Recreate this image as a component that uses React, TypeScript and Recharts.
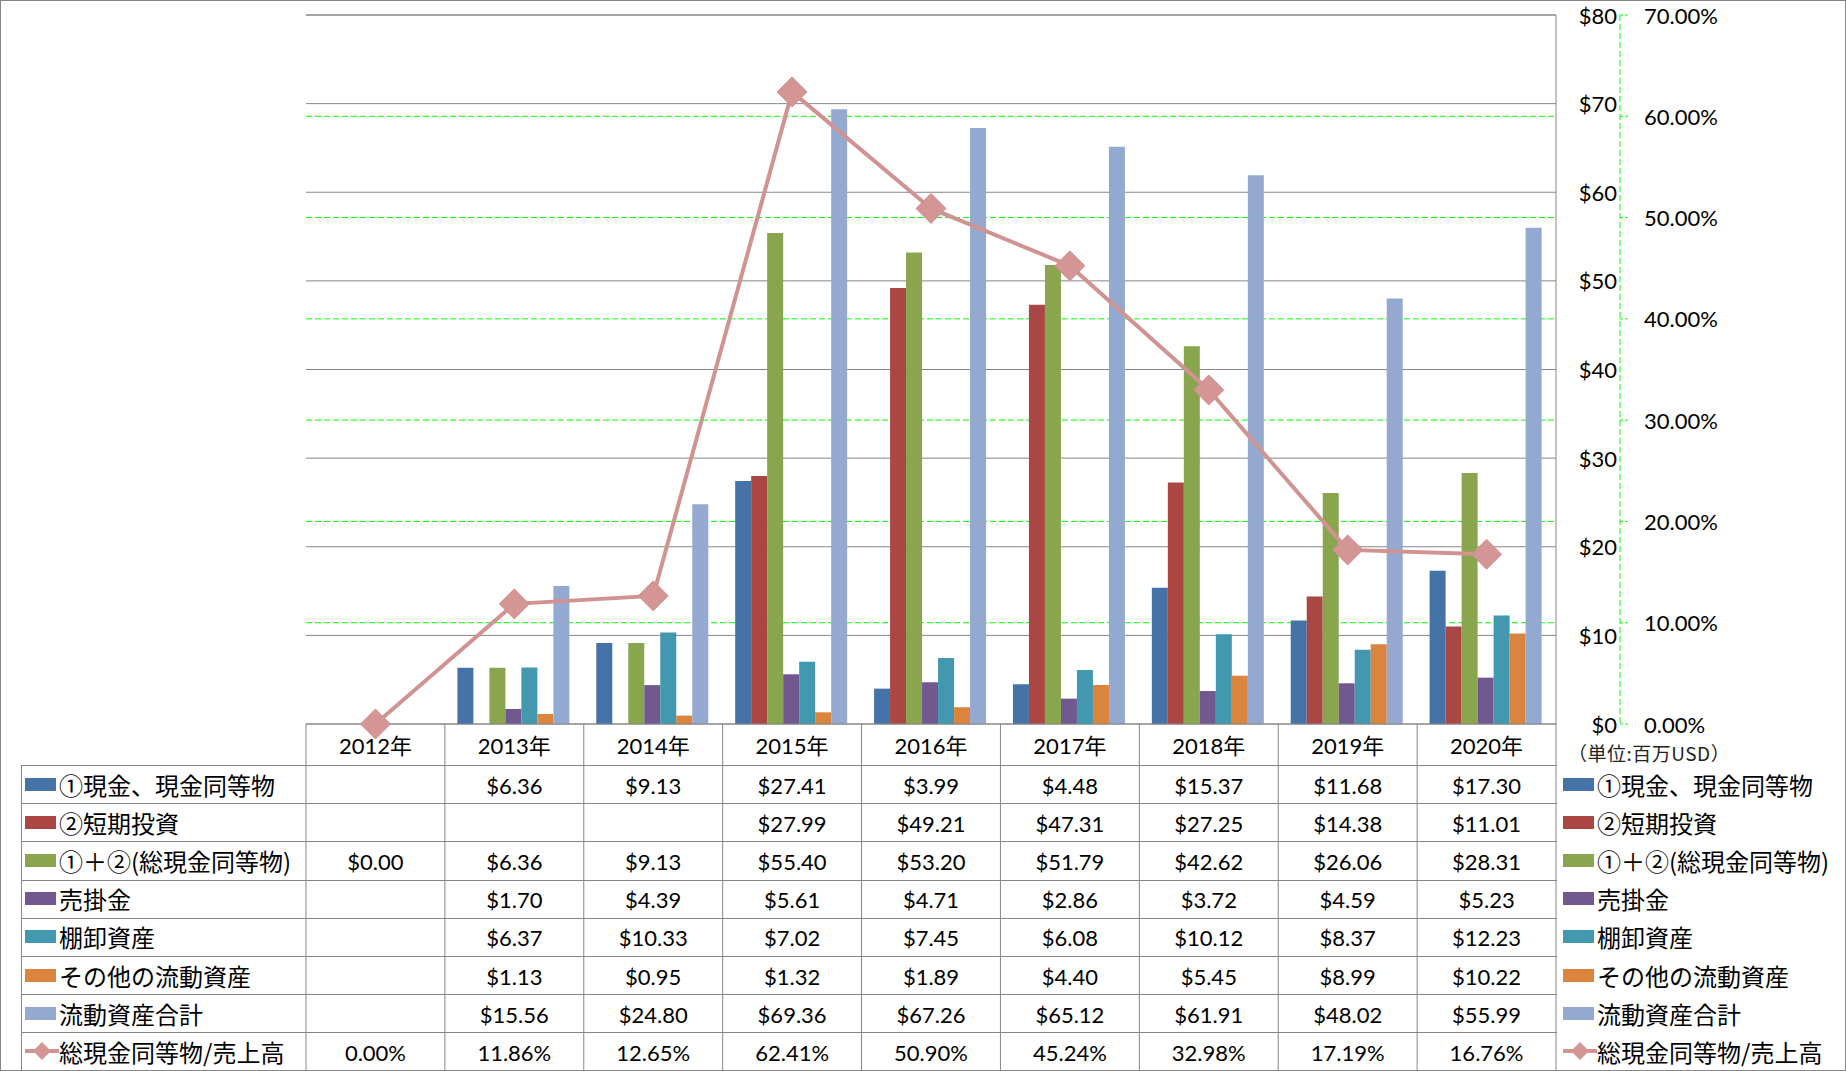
// App.tsx - cash & current assets chart with data table

import {
  Bar,
  CartesianGrid,
  ComposedChart,
  Line,
  ReferenceLine,
  XAxis,
  YAxis,
} from "recharts";

const years = ["2012年", "2013年", "2014年", "2015年", "2016年", "2017年", "2018年", "2019年", "2020年"];

const cash = [null, 6.36, 9.13, 27.41, 3.99, 4.48, 15.37, 11.68, 17.3];
const shortTerm = [null, null, null, 27.99, 49.21, 47.31, 27.25, 14.38, 11.01];
const totalCash = [0.0, 6.36, 9.13, 55.4, 53.2, 51.79, 42.62, 26.06, 28.31];
const receivables = [null, 1.7, 4.39, 5.61, 4.71, 2.86, 3.72, 4.59, 5.23];
const inventory = [null, 6.37, 10.33, 7.02, 7.45, 6.08, 10.12, 8.37, 12.23];
const otherAssets = [null, 1.13, 0.95, 1.32, 1.89, 4.4, 5.45, 8.99, 10.22];
const currentTotal = [null, 15.56, 24.8, 69.36, 67.26, 65.12, 61.91, 48.02, 55.99];
const cashToSales = [0.0, 11.86, 12.65, 62.41, 50.9, 45.24, 32.98, 17.19, 16.76];

const usdTicks = [0, 10, 20, 30, 40, 50, 60, 70, 80];
const pctTicks = [0, 10, 20, 30, 40, 50, 60, 70];
const pctGridValues = [10, 20, 30, 40, 50, 60];

const barSeries = [
  { key: "cash", name: "①現金、現金同等物", color: "#4572A7", values: cash },
  { key: "shortTerm", name: "②短期投資", color: "#AA4643", values: shortTerm },
  { key: "totalCash", name: "①＋②(総現金同等物)", color: "#89A54E", values: totalCash },
  { key: "receivables", name: "売掛金", color: "#71588F", values: receivables },
  { key: "inventory", name: "棚卸資産", color: "#4198AF", values: inventory },
  { key: "otherAssets", name: "その他の流動資産", color: "#DB843D", values: otherAssets },
  { key: "currentTotal", name: "流動資産合計", color: "#93A9CF", values: currentTotal },
];
const lineSeries = { key: "ratio", name: "総現金同等物/売上高", color: "#D09392", values: cashToSales };

const data = years.map((year, i) => {
  const row: any = { year, ratio: cashToSales[i] };
  barSeries.forEach((s) => (row[s.key] = s.values[i]));
  return row;
});

// layout
const W = 1846;
const H = 1071;
const PLOT_LEFT = 306;
const PLOT_RIGHT = 1556;
const PLOT_TOP = 15;
const PLOT_BOTTOM = 724;
const TABLE_LEFT = 21;
const HEADER_H = 41;
const ROW_H = 38.2;
const TABLE_H = H - PLOT_BOTTOM - 1;
const COL_W = (PLOT_RIGHT - PLOT_LEFT) / years.length;
const USD_AXIS_W = 64;
const BORDER = "#868686";
const GREEN = "#00FF00";
const NUM_FONT = "Lato, 'Noto Sans CJK JP', sans-serif";
const JP_FONT = "'Noto Sans CJK JP', sans-serif";

const tableRows = [
  ...barSeries.map((s) => (i: number) => (s.values[i] == null ? "" : `$${(s.values[i] as number).toFixed(2)}`)),
  (i: number) => `${cashToSales[i].toFixed(2)}%`,
];

const TableColumn = (props: any) => {
  const { x, y, payload } = props;
  const i = payload.index;
  const left = x - COL_W / 2;
  const right = x + COL_W / 2;
  return (
    <g>
      {i === 0 && <line x1={left} x2={left} y1={y} y2={y + TABLE_H} stroke={BORDER} />}
      <line x1={right} x2={right} y1={y} y2={y + TABLE_H} stroke={BORDER} />
      <text
        x={x}
        y={y + HEADER_H / 2 + 1}
        textAnchor="middle"
        dominantBaseline="central"
        fontFamily={NUM_FONT}
        fontSize={22}
        fill="#000"
      >
        {payload.value}
      </text>
      {tableRows.map((fmt, k) => (
        <text
          key={k}
          x={x}
          y={y + HEADER_H + ROW_H * k + ROW_H / 2 + 1}
          textAnchor="middle"
          dominantBaseline="central"
          fontFamily={NUM_FONT}
          fontSize={22}
          fill="#000"
        >
          {fmt(i)}
        </text>
      ))}
    </g>
  );
};

const UsdTick = ({ x, y, payload }: any) => (
  <text x={x + USD_AXIS_W - 3} y={y} textAnchor="end" dominantBaseline="central" fontFamily={NUM_FONT} fontSize={22} fill="#000">
    ${payload.value}
  </text>
);

const PctTick = ({ x, y, payload }: any) => (
  <text x={x} y={y} textAnchor="start" dominantBaseline="central" fontFamily={NUM_FONT} fontSize={22} fill="#000">
    {payload.value.toFixed(2)}%
  </text>
);

const Diamond = (props: any) => {
  const { cx, cy, index } = props;
  if (cx == null || cy == null) return <g key={index} />;
  const r = 15;
  return (
    <polygon
      key={index}
      points={`${cx},${cy - r} ${cx + r},${cy} ${cx},${cy + r} ${cx - r},${cy}`}
      fill="#D49695"
      stroke="#CF9190"
      strokeWidth={1}
      strokeLinejoin="round"
    />
  );
};

const Swatch = ({ color, isLine }: { color: string; isLine?: boolean }) =>
  isLine ? (
    <svg width={34} height={20} style={{ flex: "none" }}>
      <line x1={0} x2={34} y1={10} y2={10} stroke={color} strokeWidth={4} />
      <polygon points="17,1 26,10 17,19 8,10" fill="#D49695" />
    </svg>
  ) : (
    <div style={{ width: 31, height: 13, background: color, flex: "none", marginRight: 3 }} />
  );

const allSeries = [...barSeries, lineSeries];

const rowLabel = (left: number) => (s: any, k: number) => (
  <div
    key={left + "-" + k}
    style={{
      position: "absolute",
      left,
      top: PLOT_BOTTOM + HEADER_H + ROW_H * k - 1,
      height: ROW_H,
      display: "flex",
      alignItems: "center",
      fontFamily: JP_FONT,
      fontSize: 24,
      color: "#000",
      whiteSpace: "nowrap",
    }}
  >
    <Swatch color={s.color} isLine={s === lineSeries} />
    <span>{s.name}</span>
  </div>
);

export default function App() {
  return (
    <div
      style={{
        position: "absolute",
        left: 0,
        top: 0,
        width: W,
        height: H,
        boxSizing: "border-box",
        border: `1px solid ${BORDER}`,
        background: "#fff",
        overflow: "hidden",
      }}
    >
      <div style={{ position: "absolute", left: -1, top: -1 }}>
        <ComposedChart
          width={W}
          height={H}
          data={data}
          barGap={0}
          barCategoryGap="9%"
          margin={{ top: PLOT_TOP, right: 0, left: PLOT_LEFT, bottom: 0 }}
        >
          <CartesianGrid
            yAxisId="ratio"
            vertical={false}
            stroke={GREEN}
            strokeDasharray="6 3"
            horizontalValues={pctGridValues}
          />
          <CartesianGrid yAxisId="amount" vertical={false} stroke={BORDER} />
          <XAxis
            dataKey="year"
            height={H - PLOT_BOTTOM}
            interval={0}
            tickLine={false}
            tickSize={0}
            tickMargin={0}
            axisLine={{ stroke: BORDER }}
            tick={<TableColumn />}
          />
          <YAxis
            yAxisId="ratio"
            orientation="right"
            width={W - PLOT_RIGHT - USD_AXIS_W}
            domain={[0, 70]}
            ticks={pctTicks}
            interval={0}
            tickSize={8}
            tickMargin={16}
            tickLine={{ stroke: GREEN, strokeDasharray: "3 2" }}
            axisLine={{ stroke: GREEN, strokeDasharray: "6 3" }}
            tick={<PctTick />}
          />
          <YAxis
            yAxisId="amount"
            orientation="right"
            width={USD_AXIS_W}
            domain={[0, 80]}
            ticks={usdTicks}
            interval={0}
            tickLine={false}
            tickSize={0}
            tickMargin={0}
            axisLine={{ stroke: BORDER }}
            tick={<UsdTick />}
          />
          {barSeries.map((s) => (
            <Bar key={s.key} yAxisId="amount" dataKey={s.key} name={s.name} fill={s.color} isAnimationActive={false} />
          ))}
          <ReferenceLine yAxisId="amount" y={80} stroke={BORDER} />
          <Line
            yAxisId="ratio"
            type="linear"
            dataKey="ratio"
            name={lineSeries.name}
            stroke={lineSeries.color}
            strokeWidth={4}
            dot={<Diamond />}
            activeDot={false}
            isAnimationActive={false}
          />
        </ComposedChart>
      </div>

      {/* data table row lines and row labels */}
      {allSeries.map((_, k) => (
        <div
          key={"h" + k}
          style={{
            position: "absolute",
            left: TABLE_LEFT - 1,
            top: PLOT_BOTTOM + HEADER_H + ROW_H * k - 1,
            width: PLOT_RIGHT - TABLE_LEFT + 1,
            height: 0,
            borderTop: `1px solid ${BORDER}`,
          }}
        />
      ))}
      <div
        style={{
          position: "absolute",
          left: TABLE_LEFT - 1,
          top: PLOT_BOTTOM + HEADER_H - 1,
          width: 0,
          height: H - PLOT_BOTTOM - HEADER_H,
          borderLeft: `1px solid ${BORDER}`,
        }}
      />
      {allSeries.map(rowLabel(TABLE_LEFT + 3))}

      {/* right legend */}
      <div
        style={{
          position: "absolute",
          left: 1567,
          top: 738,
          fontFamily: JP_FONT,
          fontSize: 19,
          letterSpacing: 0.5,
          color: "#222",
          whiteSpace: "nowrap",
        }}
      >
        （単位:百万USD）
      </div>
      {allSeries.map(rowLabel(1562))}
    </div>
  );
}
